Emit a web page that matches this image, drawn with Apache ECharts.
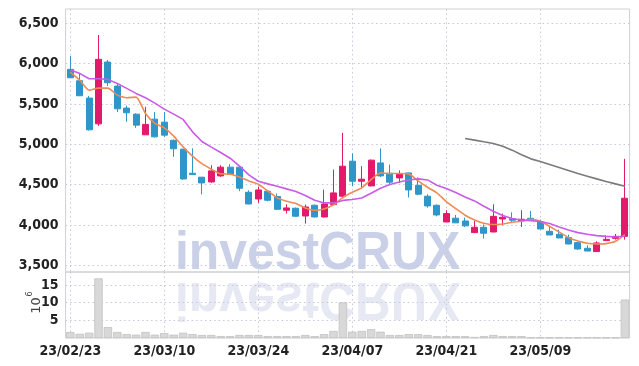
<!DOCTYPE html>
<html><head><meta charset="utf-8">
<script src="https://cdn.jsdelivr.net/npm/echarts@6/dist/echarts.min.js"></script>
<style>html,body{margin:0;padding:0;background:#fff}#c{width:639px;height:366px}</style>
</head><body><div id="c"></div>
<script>
const dates = ['23/02/23','23/02/24','23/02/27','23/02/28','23/03/02','23/03/03','23/03/06','23/03/07','23/03/08','23/03/09',
  '23/03/10','23/03/13','23/03/14','23/03/15','23/03/16','23/03/17','23/03/20','23/03/21','23/03/22','23/03/23',
  '23/03/24','23/03/27','23/03/28','23/03/29','23/03/30','23/03/31','23/04/03','23/04/04','23/04/05','23/04/06',
  '23/04/07','23/04/10','23/04/11','23/04/12','23/04/13','23/04/14','23/04/17','23/04/18','23/04/19','23/04/20',
  '23/04/21','23/04/24','23/04/25','23/04/26','23/04/27','23/04/28','23/05/02','23/05/03','23/05/04','23/05/08',
  '23/05/09','23/05/10','23/05/11','23/05/12','23/05/15','23/05/16','23/05/17','23/05/18','23/05/19','23/05/22'];
const opens = [5929,5788,5573,5254,6020,5722,5449,5374,5118,5312,
  5275,5050,4940,4642,4593,4534,4609,4717,4717,4406,
  4323,4419,4353,4183,4208,4112,4245,4100,4254,4357,
  4791,4543,4485,4770,4642,4584,4646,4493,4357,4245,
  4038,4085,4050,3906,3972,3914,4075,4080,4050,4084,
  4038,3922,3885,3844,3782,3712,3671,3807,3835,3860];
const closes = [5825,5602,5180,6053,5763,5440,5391,5238,5247,5093,
  5114,4945,4571,4625,4522,4671,4717,4630,4456,4261,
  4435,4307,4195,4212,4109,4224,4100,4261,4398,4729,
  4543,4568,4804,4609,4531,4638,4435,4382,4237,4125,
  4142,4027,3990,3972,3898,4108,4096,4059,4071,4059,
  3951,3877,3840,3765,3703,3678,3778,3823,3860,4332];
const lows = [5820,5598,5170,5229,5722,5400,5280,5205,5115,5085,
  5090,4845,4560,4620,4380,4525,4596,4625,4420,4258,
  4274,4295,4187,4142,4105,4018,4095,4095,4250,4350,
  4481,4465,4480,4596,4502,4522,4341,4369,4216,4108,
  4035,4025,3976,3905,3832,3910,3997,4038,3976,4050,
  3950,3875,3838,3762,3695,3675,3668,3805,3819,3819];
const highs = [6094,5887,5600,6355,6045,5755,5480,5385,5465,5400,
  5400,5060,4945,4950,4595,4741,4741,4754,4720,4430,
  4477,4430,4390,4257,4217,4254,4254,4439,4688,5142,
  4887,4729,4812,4949,4750,4676,4650,4590,4382,4254,
  4183,4125,4092,4050,4006,4257,4142,4158,4183,4175,
  4067,3988,3943,3881,3790,3749,3798,3873,3889,4820];
const volumes = [1.7,1.2,1.5,16.9,3.1,1.7,1.1,0.95,1.7,0.95,
  1.4,0.95,1.5,1.1,0.85,0.85,0.55,0.55,0.85,0.85,
  0.85,0.55,0.55,0.55,0.55,0.85,0.55,1.1,2.0,10.1,
  1.8,2.0,2.5,1.8,0.85,0.85,1.1,1.1,0.85,0.55,
  0.55,0.55,0.55,0.3,0.55,0.85,0.55,0.55,0.55,0.15,
  0.15,0.15,0.15,0.15,0.15,0.15,0.15,0.15,0.15,10.9];
const maShort = [5896,5796,5672,5697,5697,5610,5577,5585,5383,5259,
  5204,5101,4969,4853,4760,4692,4634,4630,4596,4547,
  4506,4423,4336,4295,4266,4212,4183,4199,4249,4341,
  4406,4460,4564,4646,4638,4638,4634,4547,4468,4398,
  4291,4204,4121,4063,4022,4006,4013,4034,4047,4071,
  4047,3984,3914,3844,3802,3774,3765,3770,3798,3881];
const maMid = [5924,5879,5812,5812,5805,5755,5693,5631,5577,5511,
  5436,5374,5309,5155,5035,4965,4899,4828,4729,4621,
  4543,4510,4481,4448,4415,4365,4307,4274,4274,4305,
  4316,4336,4394,4456,4502,4534,4559,4572,4559,4493,
  4452,4402,4348,4299,4233,4171,4117,4080,4063,4055,
  4043,4018,3976,3939,3906,3885,3869,3860,3852,3864];
const maLong = [null,null,null,null,null,null,null,null,null,null,
  null,null,null,null,null,null,null,null,null,null,
  null,null,null,null,null,null,null,null,null,null,
  null,null,null,null,null,null,null,null,null,null,
  null,null,5073,5052,5031,5011,4977,4928,4870,4820,
  4787,4750,4713,4676,4638,4605,4572,4539,4510,4481];
const priceTicks = [3500,4000,4500,5000,5500,6000,6500];
const volumeTicks = [5,10,15];

const candleData = opens.map((o, i) => [o, closes[i], lows[i], highs[i]]);
const labelFont = {fontFamily: 'Liberation Sans Narrow, DejaVu Sans Condensed, sans-serif', fontSize: 14, fontWeight: 'bold', color: '#222'};
const gridLine = {show: true, lineStyle: {color: '#c4c9dc', type: [1.5, 3], width: 1}};

const chart = echarts.init(document.getElementById('c'), null, {renderer: 'canvas'});
chart.setOption({
  animation: false,
  backgroundColor: '#fff',
  grid: [
    {left: 65.6, top: 9, width: 564, height: 263, show: true, borderColor: '#d0d0d0', borderWidth: 1, backgroundColor: 'transparent'},
    {left: 65.6, top: 272, width: 564, height: 66, show: true, borderColor: '#d0d0d0', borderWidth: 1, backgroundColor: 'transparent'}
  ],
  xAxis: [
    {type: 'category', gridIndex: 0, data: dates, boundaryGap: true,
      axisLine: {show: false}, axisTick: {show: false, interval: 9, alignWithLabel: true}, axisLabel: {show: false, interval: 9},
      splitLine: Object.assign({interval: 9, alignWithLabel: true}, gridLine)},
    {type: 'category', gridIndex: 1, data: dates, boundaryGap: true,
      axisLine: {show: false}, axisTick: {show: false, interval: 9, alignWithLabel: true},
      axisLabel: Object.assign({interval: 9, margin: 6}, labelFont),
      splitLine: Object.assign({interval: 9, alignWithLabel: true}, gridLine)}
  ],
  yAxis: [
    {type: 'value', gridIndex: 0, min: 3418, max: 6677, scale: true,
      axisLine: {show: false}, axisTick: {show: false, customValues: priceTicks},
      axisLabel: Object.assign({customValues: priceTicks, margin: 7,
        formatter: v => v.toLocaleString('en-US')}, labelFont),
      splitLine: gridLine},
    {type: 'value', gridIndex: 1, min: 0, max: 18.7,
      axisLine: {show: false}, axisTick: {show: false, customValues: volumeTicks},
      axisLabel: Object.assign({customValues: volumeTicks, margin: 7}, labelFont),
      splitLine: gridLine}
  ],
  graphic: [
    {type: 'text', x: 175, y: 281, scaleX: 0.94, z: -1, silent: true,
      style: {text: 'investCRUX', font: 'bold 53px Liberation Sans, sans-serif', fill: '#c9d0e7', verticalAlign: 'bottom', align: 'left'}},
    {type: 'text', x: 175, y: 271, scaleX: 0.94, scaleY: -1, z: -1, silent: true,
      style: {text: 'investCRUX', font: 'bold 53px Liberation Sans, sans-serif', fill: '#e6e9f3', verticalAlign: 'bottom', align: 'left'}},
    {type: 'text', x: 37, y: 305.5, rotation: Math.PI / 2, silent: true,
      style: {text: '10', font: '13px DejaVu Sans, sans-serif', fill: '#444', align: 'center', verticalAlign: 'middle'}},
    {type: 'text', x: 29.5, y: 294, rotation: Math.PI / 2, silent: true,
      style: {text: '6', font: '8px DejaVu Sans, sans-serif', fill: '#444', align: 'center', verticalAlign: 'middle'}}
  ],
  series: [
    {type: 'candlestick', xAxisIndex: 0, yAxisIndex: 0, data: candleData, barWidth: 6.6,
      itemStyle: {color: '#e3196b', color0: '#2e96c8', borderColor: '#e3196b', borderColor0: '#2e96c8', borderWidth: 1}},
    {type: 'line', xAxisIndex: 0, yAxisIndex: 0, data: maShort, symbol: 'none', smooth: 0.2,
      lineStyle: {color: '#ee8a56', width: 1.6}},
    {type: 'line', xAxisIndex: 0, yAxisIndex: 0, data: maMid, symbol: 'none',
      lineStyle: {color: '#c95be9', width: 1.6}},
    {type: 'line', xAxisIndex: 0, yAxisIndex: 0, data: maLong, symbol: 'none', connectNulls: false,
      lineStyle: {color: '#7a7a7a', width: 1.6}},
    {type: 'bar', xAxisIndex: 1, yAxisIndex: 1, data: volumes, barWidth: 8.4,
      itemStyle: {color: '#d8d8d8', borderColor: '#c2c2c2', borderWidth: 0.8}}
  ]
});
</script></body></html>
